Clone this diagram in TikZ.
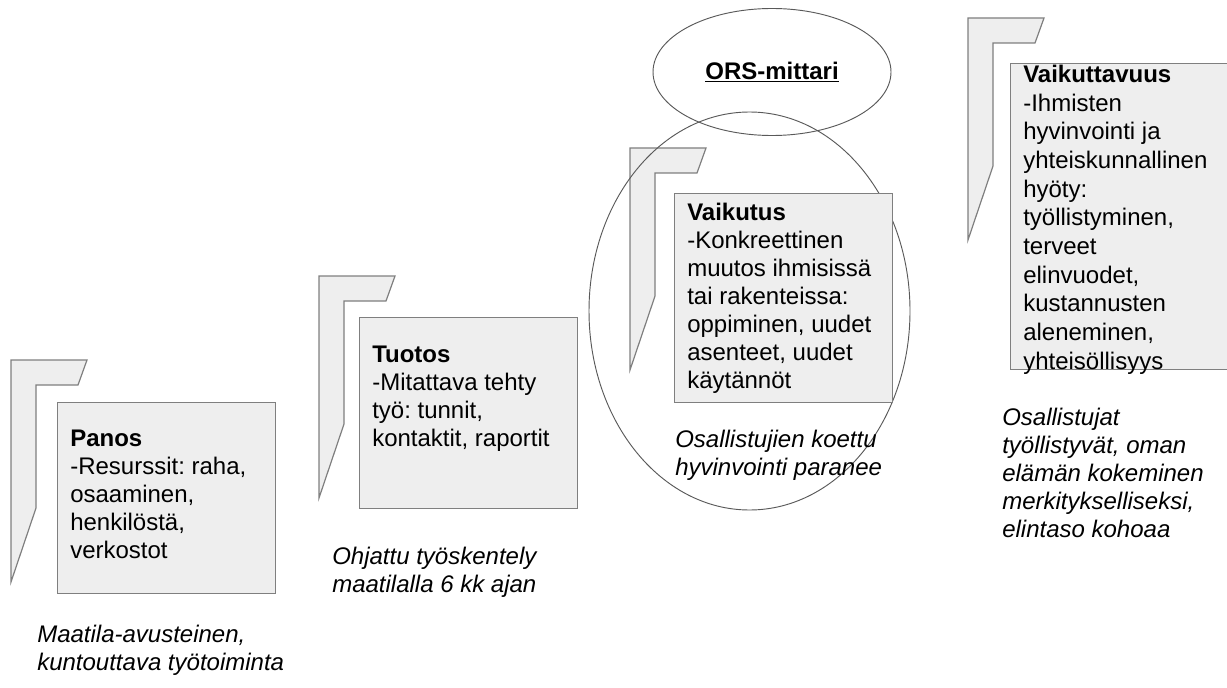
\documentclass[tikz,border=0pt]{standalone}
\usepackage{fontspec}
\setmainfont{Liberation Sans}
\frenchspacing
\usetikzlibrary{shapes.geometric}
\definecolor{harmaa}{HTML}{EEEEEE}
\definecolor{reuna}{HTML}{7F7F7F}
\definecolor{viiva}{HTML}{595959}
\tikzset{
  lippu/.style={fill=harmaa, draw=reuna, line width=0.9pt},
  laatikko/.style={rectangle, fill=harmaa, draw=reuna, line width=0.9pt, anchor=north west, inner sep=0pt, minimum width=163.5pt},
  teksti/.style={anchor=north west, inner sep=0pt, align=left, font=\fontsize{18}{21}\selectfont},
  selite/.style={teksti, font=\fontsize{18}{21}\selectfont\itshape},
  soikio/.style={ellipse, draw=viiva, line width=0.7pt, inner sep=0pt}
}
\begin{document}
\begin{tikzpicture}[x=0.75pt,y=-0.75pt]
            \useasboundingbox (0,0) rectangle (1227,688);

            % Drawing flag of Panos
            \draw [lippu] (11,360) -- ++(76,0) -- ++(-9,25) -- ++(-42,0) -- ++(0,123) -- ++(-25,74) -- cycle;%

            % Drawing flag of Tuotos
            \draw [lippu] (319,276) -- ++(76,0) -- ++(-9,25) -- ++(-42,0) -- ++(0,123) -- ++(-25,74) -- cycle;%

            % Drawing flag of Vaikutus
            \draw [lippu] (630,148) -- ++(76,0) -- ++(-9,25) -- ++(-42,0) -- ++(0,123) -- ++(-25,74) -- cycle;%

            % Drawing flag of Vaikuttavuus
            \draw [lippu] (968,18) -- ++(76,0) -- ++(-9,25) -- ++(-42,0) -- ++(0,123) -- ++(-25,74) -- cycle;%

            % Marking the big ellipse round Vaikutus
            \node [soikio, minimum width=240.75pt, minimum height=298.5pt] (piiri) at (749.5,311) {};%

            % Marking box Panos
            \node [laatikko, minimum height=143.25pt] (panos) at (57,402) {};%
            \node [teksti] (panostxt) at (70,430) {\textbf{Panos}\\-Resurssit: raha,\\osaaminen,\\henkilöstä,\\verkostot};%
            \node [selite] (panossel) at (37,625) {Maatila-avusteinen,\\kuntouttava työtoiminta};%

            % Marking box Tuotos
            \node [laatikko, minimum height=143.25pt] (tuotos) at (359,317) {};%
            \node [teksti] (tuotostxt) at (372,346) {\textbf{Tuotos}\\-Mitattava tehty\\työ: tunnit,\\kontaktit, raportit};%
            \node [selite] (tuotossel) at (332,547) {Ohjattu työskentely\\maatilalla 6 kk ajan};%

            % Marking box Vaikutus
            \node [laatikko, minimum height=156.75pt] (vaikutus) at (674,193) {};%
            \node [teksti] (vaikutustxt) at (687,203) {\textbf{Vaikutus}\\-Konkreettinen\\muutos ihmisissä\\tai rakenteissa:\\oppiminen, uudet\\asenteet, uudet\\käytännöt};%
            \node [selite] (vaikutussel) at (675,430) {Osallistujien koettu\\hyvinvointi paranee};%

            % Marking box Vaikuttavuus
            \node [laatikko, minimum height=229.5pt] (vaikuttavuus) at (1010,63) {};%
            \node [teksti, font=\fontsize{18}{21.5}\selectfont] (vaikuttavuustxt) at (1023,65) {\textbf{Vaikuttavuus}\\-Ihmisten\\hyvinvointi ja\\yhteiskunnallinen\\hyöty:\\työllistyminen,\\terveet\\elinvuodet,\\kustannusten\\aleneminen,\\yhteisöllisyys};%
            \node [selite] (vaikuttavuussel) at (1002,408) {Osallistujat\\työllistyvät, oman\\elämän kokeminen\\merkitykselliseksi,\\elintaso kohoaa};%

            % Marking ellipse ORS-mittari
            \node [soikio, minimum width=178.5pt, minimum height=95.25pt, font=\fontsize{18}{21}\selectfont\bfseries] (ors) at (772,72) {\underline{ORS-mittari}};%
        \end{tikzpicture}
\end{document}
